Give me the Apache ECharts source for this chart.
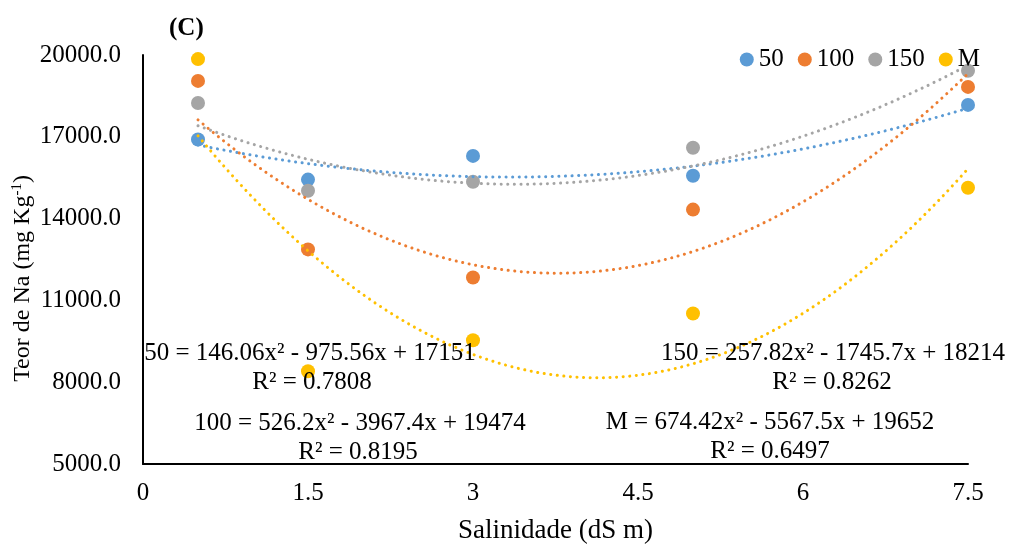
<!DOCTYPE html>
<html>
<head>
<meta charset="utf-8">
<script src="https://cdn.jsdelivr.net/npm/echarts@6/dist/echarts.min.js"></script>
<style>
html, body { margin: 0; padding: 0; background: #fff; }
#chart { width: 1009px; height: 548px; }
</style>
</head>
<body>
<div id="chart"></div>
<script>
// salinidade (dS m) and teor de Na per treatment
var salinity = [0.5, 1.5, 3, 5, 7.5];
var na50 = [16900, 15430, 16300, 15570, 18170];
var na100 = [19050, 12870, 11840, 14330, 18830];
var na150 = [18240, 15020, 15350, 16600, 19420];
var naM = [19850, 8400, 9540, 10520, 15130];

// trendline coefficients as printed on the chart: a*x^2 + b*x + c
var fit50 = [146.06, -975.56, 17151];
var fit100 = [526.2, -3967.4, 19474];
var fit150 = [257.82, -1745.7, 18214];
var fitM = [674.42, -5567.5, 19652];

var names = ['50', '100', '150', 'M'];
var colors = ['#5B9BD5', '#ED7D31', '#A5A5A5', '#FFC000'];
var FONT = '"Liberation Serif", "Times New Roman", serif';
var FS = 25;

function pairs(ys) {
    return salinity.map(function (x, i) { return [x, ys[i]] })
}

function trend(f) {
    var out = []
    for (var k = 0; k <= 70; k++) {
        var x = 0.5 + k * 0.1
        out.push([x, f[0] * x * x + f[1] * x + f[2]])
    }
    return out
}

var values = [na50, na100, na150, naM];
var fits = [fit50, fit100, fit150, fitM];

var series = [];
values.forEach(function (v, i) {
    series.push({
        name: names[i],
        type: 'scatter',
        symbolSize: 14,
        itemStyle: { color: colors[i], opacity: 1 },
        data: pairs(v),
        z: 2
    })
});
fits.forEach(function (f, i) {
    series.push({
        name: names[i] + ' trend',
        type: 'line',
        showSymbol: false,
        silent: true,
        lineStyle: { color: colors[i], width: 3, type: [0.1, 6.5], cap: 'round' },
        data: trend(f),
        z: 3
    })
});

function eq(text, x, y) {
    return {
        type: 'text',
        x: x,
        y: y,
        z: 10,
        style: {
            text: text,
            fill: '#000',
            font: FS + 'px ' + FONT,
            align: 'center',
            verticalAlign: 'middle'
        }
    }
}

var option = {
    animation: false,
    backgroundColor: '#fff',
    title: {
        text: '(C)',
        left: 164,
        top: 11,
        textStyle: { fontFamily: FONT, fontWeight: 'bold', fontSize: FS, color: '#000' }
    },
    legend: {
        data: names,
        right: 24,
        top: 42,
        icon: 'circle',
        itemWidth: 14,
        itemHeight: 14,
        itemGap: 14,
        textStyle: { fontFamily: FONT, fontSize: FS, color: '#000' }
    },
    grid: {
        left: 143,
        right: 41,
        top: 55,
        bottom: 84,
        containLabel: false,
        outerBoundsMode: 'none'
    },
    xAxis: {
        type: 'value',
        min: 0,
        max: 7.5,
        interval: 1.5,
        name: 'Salinidade (dS m)',
        nameLocation: 'middle',
        nameGap: 53,
        nameTextStyle: { fontFamily: FONT, fontSize: 27, color: '#000' },
        axisLine: { show: true, lineStyle: { color: '#000', width: 2 } },
        axisTick: { show: false },
        splitLine: { show: false },
        axisLabel: { fontFamily: FONT, fontSize: FS, color: '#000', margin: 17 }
    },
    yAxis: {
        type: 'value',
        min: 5000,
        max: 20000,
        interval: 3000,
        name: '{a|Teor de Na (mg Kg}{s|-1}{a|)}',
        nameLocation: 'middle',
        nameGap: 107,
        nameMoveOverlap: false,
        nameTextStyle: {
            padding: [0, 38, 0, 0],
            rich: {
                a: { fontFamily: FONT, fontSize: 24, color: '#000' },
                s: { fontFamily: FONT, fontSize: 15, color: '#000', padding: [0, 0, 11, 0] }
            }
        },
        axisLine: { show: true, lineStyle: { color: '#000', width: 2 } },
        axisTick: { show: false },
        splitLine: { show: false },
        axisLabel: {
            fontFamily: FONT, fontSize: FS, color: '#000', margin: 22,
            formatter: function (v) { return v.toFixed(1) }
        }
    },
    graphic: [
        eq('50 = 146.06x² - 975.56x + 17151', 310, 353),
        eq('R² = 0.7808', 312, 382),
        eq('100 = 526.2x² - 3967.4x + 19474', 360, 423),
        eq('R² = 0.8195', 358, 452),
        eq('150 = 257.82x² - 1745.7x + 18214', 833, 353),
        eq('R² = 0.8262', 832, 382),
        eq('M = 674.42x² - 5567.5x + 19652', 770, 422),
        eq('R² = 0.6497', 770, 451)
    ],
    series: series
};

var chart = echarts.init(document.getElementById('chart'));
chart.setOption(option);
</script>
</body>
</html>
